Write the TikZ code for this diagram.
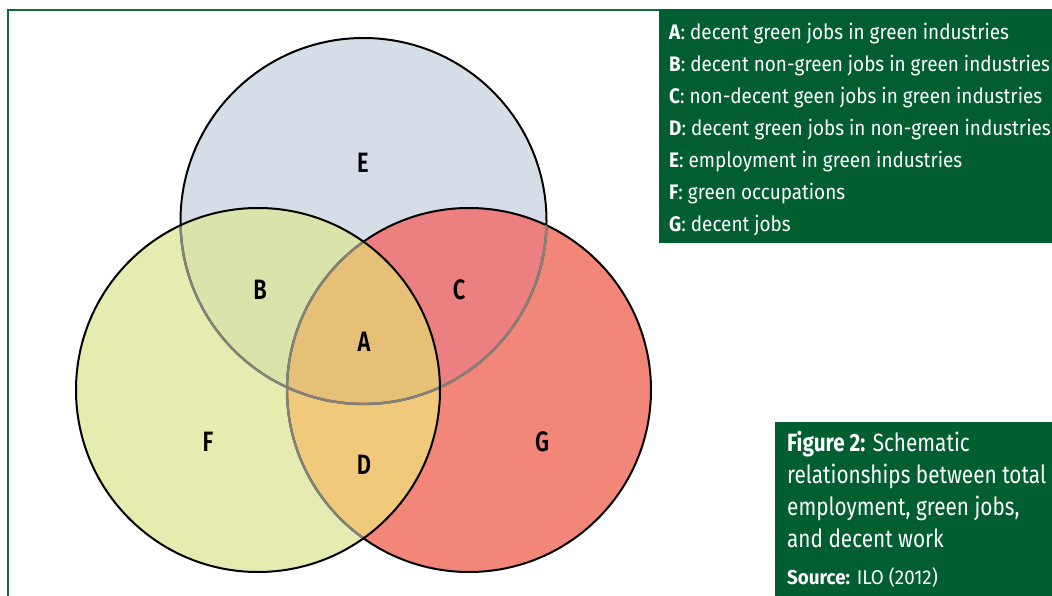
\documentclass[tikz,border=0pt]{standalone}
\usepackage{fontspec}
\setmainfont{Fira Sans}[FakeStretch=0.90]
\newfontfamily\capfont{Fira Sans}[FakeStretch=0.83]
\newfontfamily\srcfont{Fira Sans}[FakeStretch=0.94]
\newfontfamily\vennfont{Fira Sans SemiBold}[FakeStretch=0.78]
\definecolor{frameg}{RGB}{20,104,56}
\definecolor{boxg}{RGB}{0,94,48}
\definecolor{colE}{RGB}{213,222,230}
\definecolor{colF}{RGB}{230,236,176}
\definecolor{colG}{RGB}{242,134,121}
\definecolor{colB}{RGB}{218,227,170}
\definecolor{colC}{RGB}{236,127,127}
\definecolor{colA}{RGB}{231,192,120}
\definecolor{colD}{RGB}{240,201,122}
\definecolor{innerline}{RGB}{130,130,120}
\tikzset{
  blackline/.style={draw=black,line width=2pt},
  greyline/.style={draw=innerline,line width=2.4pt},
  venn/.style={font=\vennfont\fontsize{28}{28}\selectfont,text=black,inner sep=0pt},
  legend/.style={anchor=base west,text=white,inner sep=0pt,font=\fontsize{21}{22}\selectfont},
  caption/.style={anchor=base west,text=white,inner sep=0pt,font=\capfont\fontsize{25}{26}\selectfont},
  source/.style={anchor=base west,text=white,inner sep=0pt,font=\srcfont\fontsize{20}{21}\selectfont}
}
\begin{document}
\begin{tikzpicture}[x=1pt,y=-1pt]
\useasboundingbox (0,0) rectangle (1052,596);
\coordinate (cE) at (363.5,221);
\coordinate (cF) at (258,390);
\coordinate (cG) at (469,390);
\def\rE{183pt}
\def\rF{182pt}
\def\rG{182pt}
% frame
\draw[frameg,line width=2pt] (660,10) -- (8,10) -- (8,597);
% fills
\fill[colE] (cE) circle[radius=\rE];
\fill[colG] (cG) circle[radius=\rG];
\fill[colF] (cF) circle[radius=\rF];
\begin{scope}
  \clip (cF) circle[radius=\rF];
  \fill[colD] (cG) circle[radius=\rG];
\end{scope}
\begin{scope}
  \clip (cE) circle[radius=\rE];
  \fill[colB] (cF) circle[radius=\rF];
  \fill[colC] (cG) circle[radius=\rG];
  \clip (cF) circle[radius=\rF];
  \fill[colA] (cG) circle[radius=\rG];
\end{scope}
% outlines
\draw[blackline] (cE) circle[radius=\rE];
\draw[blackline] (cG) circle[radius=\rG];
\begin{scope}
  \clip (cF) circle[radius=\rF];
  \draw[greyline] (cE) circle[radius=\rE];
  \draw[greyline] (cG) circle[radius=\rG];
\end{scope}
\begin{scope}
  \clip (cG) circle[radius=\rG];
  \draw[greyline] (cE) circle[radius=\rE];
\end{scope}
\draw[blackline] (cF) circle[radius=\rF];
% region labels
\node[venn] (lE) at (363,163) {E};
\node[venn] (lB) at (260,290) {B};
\node[venn] (lC) at (459,290) {C};
\node[venn] (lA) at (364,342) {A};
\node[venn] (lF) at (208,442) {F};
\node[venn] (lD) at (364,465) {D};
\node[venn] (lG) at (542,442) {G};
% legend
\fill[boxg] (659,9) rectangle (1052,243);
\node[legend] (k1) at (669,40) {\textbf{A}: decent green jobs in green industries};
\node[legend] (k2) at (669,72) {\textbf{B}: decent non-green jobs in green industries};
\node[legend] (k3) at (669,104) {\textbf{C}: non-decent geen jobs in green industries};
\node[legend] (k4) at (669,136) {\textbf{D}: decent green jobs in non-green industries};
\node[legend] (k5) at (669,168) {\textbf{E}: employment in green industries};
\node[legend] (k6) at (669,200) {\textbf{F}: green occupations};
\node[legend] (k7) at (669,232) {\textbf{G}: decent jobs};
% caption
\fill[boxg] (775,422) rectangle (1052,596);
\node[caption] (c1) at (787,451) {\textbf{Figure 2:} Schematic};
\node[caption] (c2) at (787,483) {relationships between total};
\node[caption] (c3) at (787,515) {employment, green jobs,};
\node[caption] (c4) at (787,547) {and decent work};
\node[source] (c5) at (787,584) {\textbf{Source:} ILO (2012)};
\end{tikzpicture}
\end{document}
